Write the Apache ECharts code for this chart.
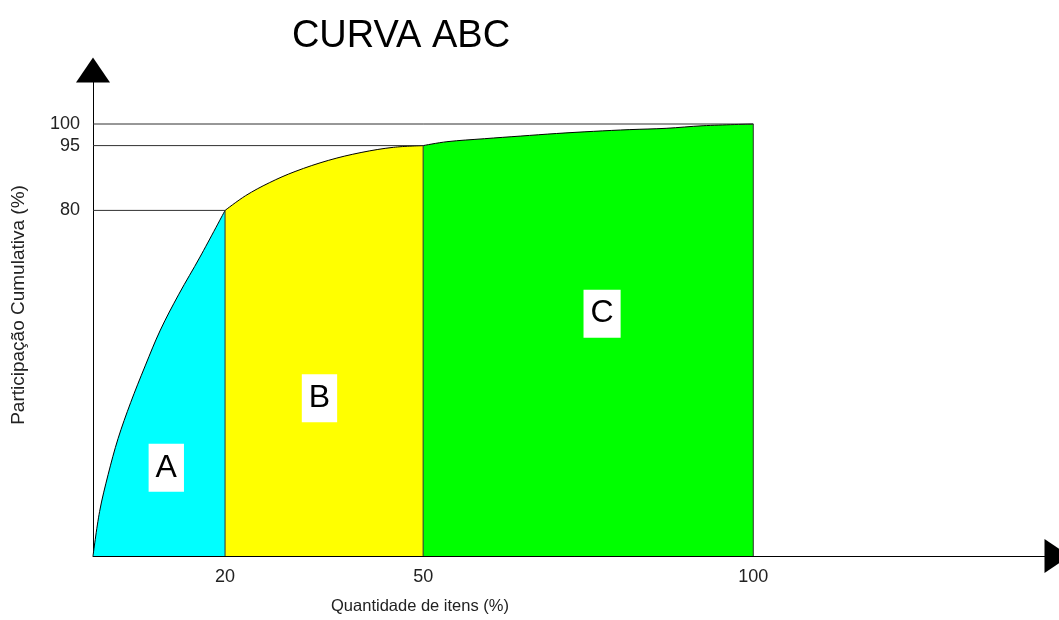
<!DOCTYPE html>
<html>
<head>
<meta charset="utf-8">
<script src="https://cdn.jsdelivr.net/npm/echarts@6/dist/echarts.min.js"></script>
<style>
  html, body { margin: 0; padding: 0; background: #ffffff; }
  #chart { width: 1059px; height: 620px; }
</style>
</head>
<body>
<div id="chart"></div>
<script>
// ---- data ----
var titleText = 'CURVA ABC';
var xName = 'Quantidade de itens (%)';
var yName = 'Participação Cumulativa (%)';

var xTicks = [20, 50, 100];
var yTicks = [80, 95, 100];

// class boundaries (x = % of items, y = cumulative %)
var breakX = [20, 50, 100];
var breakY = [80, 95, 100];

// cumulative curve, one piece per class
var curveA = [[0, 0], [1.0, 10.3], [2.3, 18.9], [3.8, 27.2], [5.7, 35.5], [7.9, 44.0],
              [10.2, 52.3], [13.0, 60.6], [16.2, 69.2], [20, 80]];
var curveB = [[20, 80], [23.1, 83.4], [26.7, 86.4], [30.6, 89.0], [35.7, 91.6],
              [40.6, 93.4], [45.5, 94.6], [50, 95]];
var curveC = [[50, 95], [53.6, 95.9], [59.3, 96.6], [64.7, 97.2], [70.2, 97.8],
              [75.8, 98.3], [81.3, 98.7], [86.8, 99.0], [92.4, 99.6], [100, 100]];

var classNames = ['A', 'B', 'C'];
var classLabelPos = [[11.1, 20.4], [34.3, 36.5], [77.1, 56.1]];
var classColors = ['#00ffff', '#ffff00', '#00ff00'];

// ---- chart ----
var font = '"Liberation Sans", Arial, sans-serif';
var chart = echarts.init(document.getElementById('chart'), null, { renderer: 'canvas' });

var curves = [curveA, curveB, curveC];
var series = [];
curves.forEach(function (c, i) {
  series.push({
    type: 'line',
    name: classNames[i],
    data: c,
    smooth: 0.35,
    showSymbol: false,
    symbol: 'none',
    silent: true,
    z: 2,
    lineStyle: { color: '#000000', width: 1 },
    areaStyle: { color: classColors[i], opacity: 1, origin: 'start' }
  });
});

// guide lines: horizontal from y axis to boundary point, vertical down to x axis
var guideData = [];
breakX.forEach(function (bx, i) {
  guideData.push([0, breakY[i]], [bx, breakY[i]], [bx, 0], '-');
});
series.push({
  type: 'line',
  data: guideData,
  showSymbol: false,
  symbol: 'none',
  connectNulls: false,
  silent: true,
  z: 3,
  lineStyle: { color: '#303030', width: 1 }
});

// class letters
series.push({
  type: 'scatter',
  data: classLabelPos.map(function (p, i) { return { value: p, name: classNames[i] }; }),
  symbolSize: 1,
  silent: true,
  z: 5,
  itemStyle: { opacity: 0 },
  label: {
    show: true,
    position: 'inside',
    formatter: '{b}',
    color: '#000000',
    opacity: 1,
    fontFamily: font,
    fontSize: 32,
    lineHeight: 32,
    backgroundColor: '#ffffff',
    padding: [8, 7, 8, 7]
  },
  emphasis: { disabled: true }
});

var option = {
  backgroundColor: '#ffffff',
  animation: false,
  title: {
    text: titleText,
    left: 396,
    top: 13,
    textAlign: 'center',
    textStyle: { fontFamily: font, fontSize: 38, fontWeight: 'normal', color: '#000000' }
  },
  grid: { left: 93, right: 2, top: 70, bottom: 63, containLabel: false },
  xAxis: {
    type: 'value',
    min: 0,
    max: 146,
    name: xName,
    nameLocation: 'middle',
    nameGap: 42,
    nameTextStyle: { fontFamily: font, fontSize: 16.5, color: '#222222', padding: [0, 310, 0, 0] },
    axisLine: { show: true, lineStyle: { color: '#000000', width: 1 }, symbol: ['none', 'triangle'], symbolSize: [34, 25] },
    axisTick: { show: false },
    splitLine: { show: false },
    axisLabel: { customValues: xTicks, fontFamily: font, fontSize: 18, color: '#222222', margin: 12 }
  },
  yAxis: {
    type: 'value',
    min: 0,
    max: 112.5,
    name: yName,
    nameLocation: 'middle',
    nameGap: 65,
    nameTextStyle: { fontFamily: font, fontSize: 19, color: '#222222', padding: [0, 0, 0, 16] },
    axisLine: { show: true, lineStyle: { color: '#000000', width: 1 }, symbol: ['none', 'triangle'], symbolSize: [34, 25] },
    axisTick: { show: false },
    splitLine: { show: false },
    axisLabel: { customValues: yTicks, fontFamily: font, fontSize: 18, color: '#222222', margin: 13 }
  },
  series: series
};
chart.setOption(option);
</script>
</body>
</html>
